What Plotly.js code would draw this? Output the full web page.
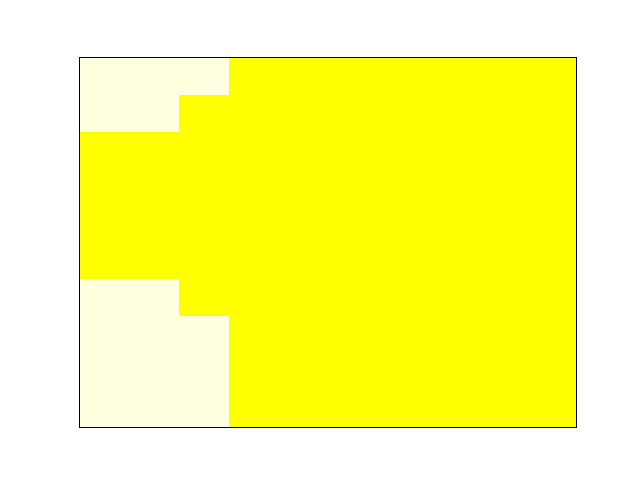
<!DOCTYPE html>
<html>
<head>
<meta charset="utf-8">
<script src="https://cdn.plot.ly/plotly-3.0.1.min.js"></script>
<style>html,body{margin:0;padding:0;background:#fff;}#chart{width:640px;height:480px;}</style>
</head>
<body>
<div id="chart"></div>
<script>
// Grid values: rows listed from top to bottom, columns left to right (0 = light, 1 = yellow)
const row0 = [0,0,0,1,1,1,1,1,1,1];
const row1 = [0,0,1,1,1,1,1,1,1,1];
const row2 = [1,1,1,1,1,1,1,1,1,1];
const row3 = [1,1,1,1,1,1,1,1,1,1];
const row4 = [1,1,1,1,1,1,1,1,1,1];
const row5 = [1,1,1,1,1,1,1,1,1,1];
const row6 = [0,0,1,1,1,1,1,1,1,1];
const row7 = [0,0,0,1,1,1,1,1,1,1];
const row8 = [0,0,0,1,1,1,1,1,1,1];
const row9 = [0,0,0,1,1,1,1,1,1,1];
const zRows = [row0,row1,row2,row3,row4,row5,row6,row7,row8,row9];

const trace = {
  type: 'heatmap',
  z: zRows,
  colorscale: [[0,'#FFFFE0'],[1,'#FFFF00']],
  zmin: 0, zmax: 1,
  showscale: false,
  hoverinfo: 'skip'
};
const axisCommon = {
  showticklabels: false, ticks: '', showgrid: false, zeroline: false,
  showline: true, mirror: true, linecolor: '#000', linewidth: 1
};
const layout = {
  width: 640, height: 480,
  margin: {l: 80, r: 64, t: 58, b: 53},
  paper_bgcolor: '#fff', plot_bgcolor: '#fff',
  xaxis: Object.assign({range: [-0.5, 9.5]}, axisCommon),
  yaxis: Object.assign({range: [9.5, -0.5]}, axisCommon),
  showlegend: false
};
Plotly.newPlot('chart', [trace], layout, {displayModeBar: false, staticPlot: true});
</script>
</body>
</html>
